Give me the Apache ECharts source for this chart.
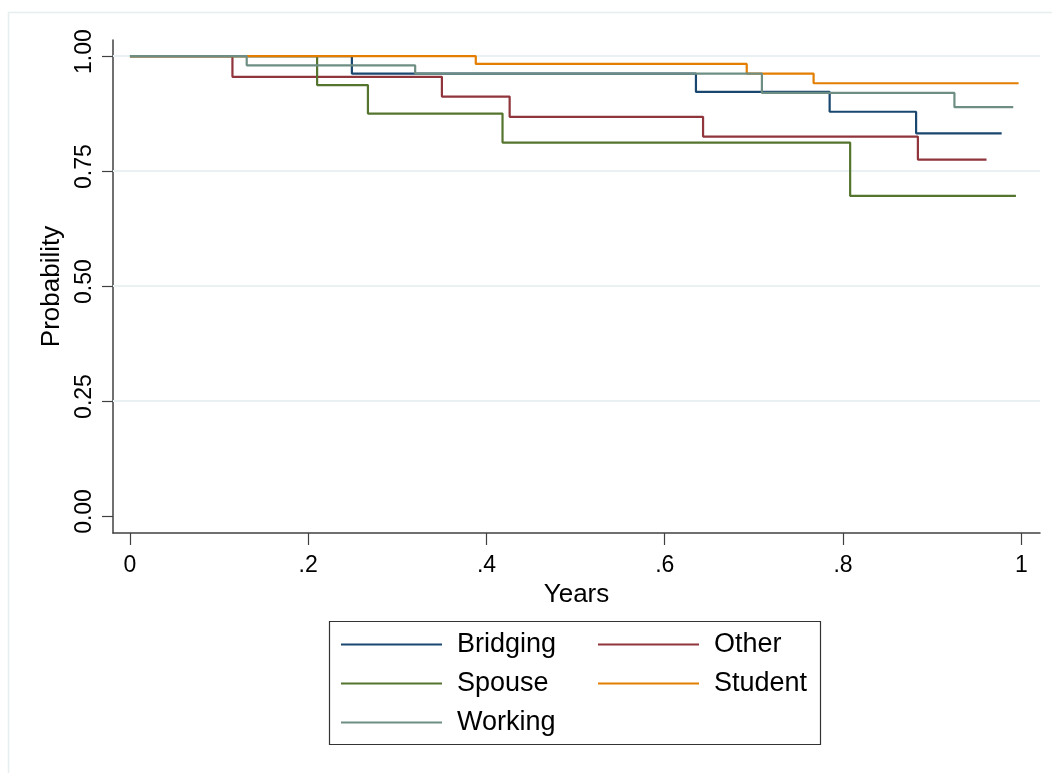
<!DOCTYPE html>
<html>
<head>
<meta charset="utf-8">
<script src="https://cdn.jsdelivr.net/npm/echarts@6/dist/echarts.min.js"></script>
<style>
html,body{margin:0;padding:0;background:#fff;}
#chart{width:1052px;height:773px;}
</style>
</head>
<body>
<div id="chart"></div>
<script>
// Kaplan-Meier step data (time in years, survival probability)
const seriesNames = ['Bridging', 'Other', 'Spouse', 'Student', 'Working'];
const bridgingTimes = [0, 0.249, 0.635, 0.785, 0.882, 0.978];
const bridgingSurv  = [1, 0.962, 0.922, 0.879, 0.832, 0.832];
const otherTimes = [0, 0.115, 0.350, 0.426, 0.643, 0.884, 0.961];
const otherSurv  = [1, 0.955, 0.912, 0.868, 0.825, 0.775, 0.775];
const spouseTimes = [0, 0.210, 0.267, 0.418, 0.808, 0.994];
const spouseSurv  = [1, 0.937, 0.875, 0.812, 0.696, 0.696];
const studentTimes = [0, 0.388, 0.692, 0.767, 0.997];
const studentSurv  = [1, 0.983, 0.962, 0.941, 0.941];
const workingTimes = [0, 0.131, 0.320, 0.709, 0.925, 0.991];
const workingSurv  = [1, 0.980, 0.962, 0.920, 0.889, 0.889];

const xTicks = [0, 0.2, 0.4, 0.6, 0.8, 1];
const xTickLabels = ['0', '.2', '.4', '.6', '.8', '1'];
const yTicks = [0, 0.25, 0.5, 0.75, 1];
const yTickLabels = ['0.00', '0.25', '0.50', '0.75', '1.00'];
const yGridValues = [0.25, 0.5, 0.75, 1];

const colors = ['#1a476f', '#90353b', '#55752f', '#e37e00', '#6e8e84'];
const timesList = [bridgingTimes, otherTimes, spouseTimes, studentTimes, workingTimes];
const survList = [bridgingSurv, otherSurv, spouseSurv, studentSurv, workingSurv];

const font = '"Liberation Sans", Arial, sans-serif';

const series = seriesNames.map((name, i) => ({
  name: name,
  type: 'line',
  step: 'end',
  symbol: 'none',
  showSymbol: false,
  silent: true,
  z: 3 + i,
  lineStyle: { color: colors[i], width: 2.2 },
  itemStyle: { color: colors[i] },
  data: timesList[i].map((t, k) => [t, survList[i][k]])
}));

// grid lines
series.unshift({
  name: '_grid',
  type: 'line',
  data: [],
  silent: true,
  z: 1,
  markLine: {
    silent: true,
    symbol: 'none',
    label: { show: false },
    lineStyle: { color: '#eaf1f3', width: 2, type: 'solid' },
    data: yGridValues.map(v => ({ yAxis: v }))
  }
});

const chart = echarts.init(document.getElementById('chart'), null, { renderer: 'canvas' });
chart.setOption({
  animation: false,
  backgroundColor: '#ffffff',
  grid: { left: 113, top: 40, width: 927, height: 493, containLabel: false },
  xAxis: {
    type: 'value',
    min: -0.019,
    max: 1.021,
    name: 'Years',
    nameLocation: 'middle',
    nameGap: 46,
    nameTextStyle: { fontFamily: font, fontSize: 26, color: '#000' },
    axisLine: { show: true, onZero: false, lineStyle: { color: '#404040', width: 1.5 } },
    axisTick: { show: true, customValues: xTicks, length: 12, lineStyle: { color: '#404040', width: 1.2 } },
    axisLabel: {
      customValues: xTicks,
      formatter: v => xTickLabels[xTicks.findIndex(t => Math.abs(t - v) < 1e-9)],
      fontFamily: font, fontSize: 23, color: '#000', margin: 21
    },
    splitLine: { show: false }
  },
  yAxis: {
    type: 'value',
    min: -0.037,
    max: 1.035,
    name: 'Probability',
    nameLocation: 'middle',
    nameRotate: 90,
    nameGap: 47,
    nameTextStyle: { fontFamily: font, fontSize: 26, color: '#000' },
    axisLine: { show: true, onZero: false, lineStyle: { color: '#404040', width: 1.5 } },
    axisTick: { show: true, customValues: yTicks, length: 11, lineStyle: { color: '#404040', width: 1.2 } },
    axisLabel: {
      customValues: yTicks,
      rotate: 90,
      formatter: v => yTickLabels[yTicks.findIndex(t => Math.abs(t - v) < 1e-9)],
      fontFamily: font, fontSize: 23, color: '#000', margin: 17,
      padding: [0, 0, 0, 9]
    },
    splitLine: { show: false }
  },
  legend: [
    {
      data: ['Bridging', 'Spouse', 'Working'],
      orient: 'vertical',
      left: 341, top: 631, padding: 0,
      itemWidth: 101, itemHeight: 2, itemGap: 12,
      icon: 'rect', selectedMode: false,
      textStyle: { fontFamily: font, fontSize: 27, color: '#000', lineHeight: 26, padding: [0, 0, 0, 10] }
    },
    {
      data: ['Other', 'Student'],
      orient: 'vertical',
      left: 598, top: 631, padding: 0,
      itemWidth: 101, itemHeight: 2, itemGap: 12,
      icon: 'rect', selectedMode: false,
      textStyle: { fontFamily: font, fontSize: 27, color: '#000', lineHeight: 26, padding: [0, 0, 0, 10] }
    }
  ],
  graphic: [
    {
      type: 'rect', silent: true, z: 0,
      shape: { x: 8.5, y: 12.5, width: 1080, height: 800 },
      style: { fill: 'none', stroke: '#e6eef0', lineWidth: 1.5 }
    },
    {
      type: 'rect', silent: true, z: 10,
      shape: { x: 329.5, y: 621.5, width: 491, height: 123 },
      style: { fill: 'none', stroke: '#333333', lineWidth: 1.2 }
    }
  ],
  series: series
});
</script>
</body>
</html>
